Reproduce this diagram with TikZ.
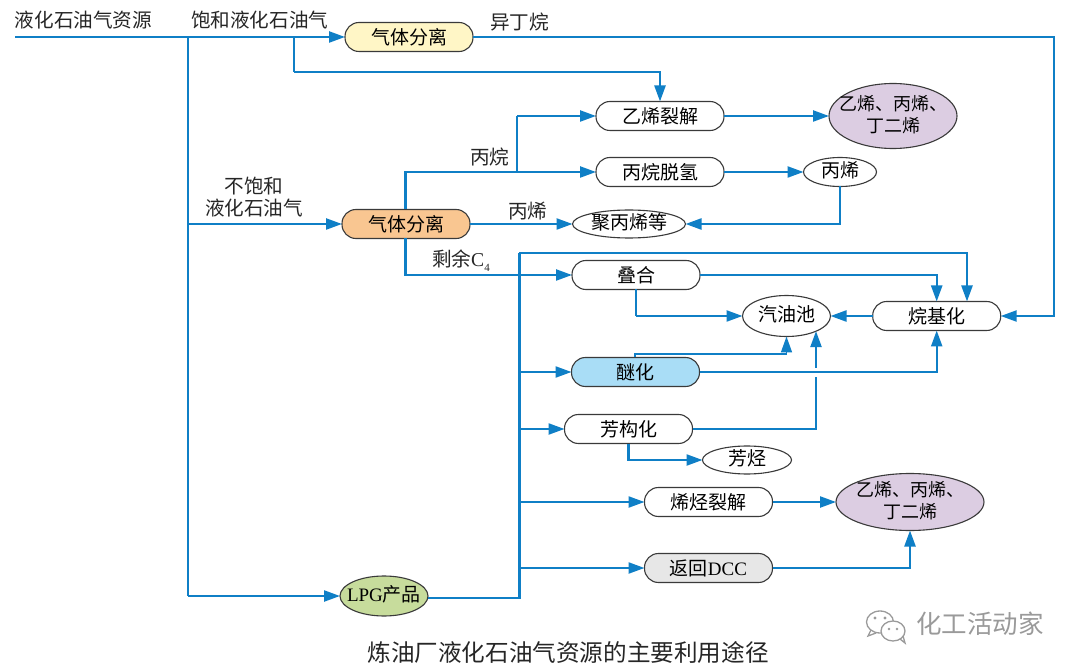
\documentclass[tikz,border=0pt]{standalone}
\usepackage{fontspec}
\setmainfont{Noto Sans CJK SC}
\newfontfamily\latinfont{Liberation Serif}
\usetikzlibrary{arrows.meta,shapes.geometric}
\definecolor{flowc}{HTML}{0F7FC6}
\definecolor{edgec}{HTML}{3A3A3A}
\definecolor{yel}{HTML}{FFF6C6}
\definecolor{ora}{HTML}{F9C691}
\definecolor{pur}{HTML}{DCCDE2}
\definecolor{blu}{HTML}{A9DDF6}
\definecolor{gra}{HTML}{E7E7E7}
\definecolor{gre}{HTML}{C7DC9C}
\definecolor{wmk}{HTML}{9A9A9A}
\newcommand\ctr[1]{\raisebox{-.52em}{\smash{\makebox[0pt][c]{\begin{tabular}[c]{@{}c@{}}#1\end{tabular}}}}}
\tikzset{
  pill/.style={draw=edgec,line width=1.1pt,rounded corners=14pt,fill=white,minimum width=128pt,minimum height=29pt,inner sep=0pt,outer sep=0pt,font=\fontsize{19}{22}\selectfont},
  oval/.style={draw=edgec,line width=1.1pt,ellipse,fill=white,inner sep=0pt,outer sep=0pt,font=\fontsize{19}{22}\selectfont},
  lab/.style={inner sep=0pt,outer sep=0pt,font=\fontsize{19.6}{22}\selectfont,text=black!85},
  flowline/.style={draw=flowc,line width=2.3pt},
  arr/.style={flowline,-{Triangle[length=16pt,width=11pt]}},
  thinflow/.style={draw=flowc,line width=1.6pt,-{Triangle[length=16pt,width=11pt]}}
}
\begin{document}
\begin{tikzpicture}[x=1pt,y=-1pt]
\useasboundingbox (0,0) rectangle (1080,671);
\fill[white] (0,0) rectangle (1080,671);
% nodes
\node[pill,fill=yel] (gs1) at (409,37) {气体分离};
\node[pill] (ethc) at (660,116) {乙烯裂解};
\node[oval,fill=pur,minimum width=128pt,minimum height=65pt] (pr1) at (893,116) {\ctr{\fontsize{18}{22}\selectfont 乙烯、丙烯、\\\fontsize{18}{22}\selectfont 丁二烯}};
\node[pill] (pdh) at (660,172) {丙烷脱氢};
\node[oval,minimum width=73pt,minimum height=29pt] (pe) at (840,172) {\ctr{丙烯}};
\node[pill,fill=ora] (gs2) at (406,224) {气体分离};
\node[oval,minimum width=113pt,minimum height=28pt] (pp) at (629,224) {\ctr{聚丙烯等}};
\node[pill] (oli) at (636,275) {叠合};
\node[oval,minimum width=88pt,minimum height=41pt] (pool) at (786.5,316) {\ctr{汽油池}};
\node[pill] (alk) at (936.7,316) {烷基化};
\node[pill,fill=blu] (eth) at (635.5,372) {醚化};
\node[pill] (aro) at (628.5,429) {芳构化};
\node[oval,minimum width=89pt,minimum height=28pt] (arp) at (747,460) {\ctr{芳烃}};
\node[pill] (olc) at (708.5,502) {烯烃裂解};
\node[oval,fill=pur,minimum width=148pt,minimum height=57pt] (pr2) at (910,502) {\ctr{\fontsize{18}{22}\selectfont 乙烯、丙烯、\\\fontsize{18}{22}\selectfont 丁二烯}};
\node[pill,fill=gra] (dcc) at (708.5,568) {返回{\latinfont DCC}};
\node[oval,fill=gre,minimum width=88pt,minimum height=40pt] (lpg) at (384,596) {\ctr{{\latinfont LPG}产品}};
% labels
\node[lab,anchor=west] (l1) at (15,20) {液化石油气资源};
\node[lab,anchor=west] (l2) at (191,20) {饱和液化石油气};
\node[lab,anchor=west] (l3) at (490,22) {异丁烷};
\node[lab,anchor=west] (l4) at (470,157) {丙烷};
\node[lab,align=center] (l5) at (254,197) {不饱和\\液化石油气};
\node[lab,anchor=west] (l6) at (508,211) {丙烯};
\node[lab,anchor=west] (l7) at (432,261) {剩余{\latinfont C\raisebox{-.25em}{\fontsize{11}{11}\selectfont 4}}};
\node[lab,font=\fontsize{23.6}{26}\selectfont] (cap) at (568,652) {炼油厂液化石油气资源的主要利用途径};
% coordinates
\coordinate (start) at (15,37);
\coordinate (j1) at (188,37);
\coordinate (j2) at (188,224);
\coordinate (j5) at (188,596);
\coordinate (j3) at (293.7,37);
\coordinate (j4) at (293.7,72);
\coordinate (b1) at (405.6,172);
\coordinate (b2) at (517,172);
\coordinate (b3) at (517,116);
\coordinate (c4) at (405.6,275);
\coordinate (t1) at (1053.8,37);
\coordinate (bus) at (519.4,275);
\coordinate (bustop) at (519.4,253);
\coordinate (busbot) at (519.4,598);
\coordinate (e1) at (967,253);
\coordinate (e2) at (936.7,275);
\coordinate (g1) at (816,377);
\coordinate (g2) at (816,367.5);
\coordinate (g0) at (816,429);
\coordinate (u1) at (634.8,354);
\coordinate (u2) at (786.5,354);
\coordinate (n1) at (936.7,372);
\coordinate (n2) at (910,568);
\coordinate (ab) at (628.5,460);
\coordinate (o1) at (635.7,316);
% connectors
\draw[arr] (start) -- (gs1.west);
\draw[flowline] (j1) -- (j5);
\draw[arr] (j5) -- (lpg.west);
\draw[arr] (j2) -- (gs2.west);
\draw[flowline] (j3) -- (j4);
\draw[arr] (j4) -| (ethc.north);
\draw[arr] (gs1.east) -- (t1) |- (alk.east);
\draw[flowline] (gs2.north -| b1) -- (b1) -- (b2);
\draw[arr] (b2) -- (pdh.west);
\draw[flowline] (b2) -- (b3);
\draw[arr] (b3) -- (ethc.west);
\draw[arr] (ethc.east) -- (pr1.west);
\draw[arr] (pdh.east) -- (pe.west);
\draw[arr] (pe.south) |- (pp.east);
\draw[arr] (gs2.east) -- (pp.west);
\draw[arr] (gs2.south -| c4) -- (c4) -- (oli.west);
\draw[flowline] (lpg.east |- busbot) -- (busbot) -- (bustop);
\draw[arr] (bustop) -- (e1) -- (alk.north -| e1);
\draw[arr] (oli.east) -- (e2) -- (alk.north);
\draw[arr] (o1) -- (pool.west);
\draw[flowline] (oli.south -| o1) -- (o1);
\draw[arr] (alk.west) -- (pool.east);
\draw[arr] (bus |- eth.west) -- (eth.west);
\draw[arr] (bus |- aro.west) -- (aro.west);
\draw[arr] (bus |- olc.west) -- (olc.west);
\draw[arr] (bus |- dcc.west) -- (dcc.west);
\draw[thinflow] (eth.north -| u1) -- (u1) -- (u2) -- (pool.south);
\draw[arr] (eth.east) -- (n1) -- (alk.south);
\draw[flowline] (aro.east) -- (g0) -- (g1);
\draw[arr] (g2) -- (g2 |- pool.-27);
\draw[arr] (aro.south) -- (ab) -- (arp.west);
\draw[arr] (olc.east) -- (pr2.west);
\draw[arr] (dcc.east) -- (n2) -- (pr2.south);
% watermark
\node[lab,font=\fontsize{25.5}{28}\selectfont,text=wmk] (wm) at (980,624) {化工活动家};
\draw[draw=wmk,line width=1.3pt,fill=white] (880,622) ellipse [x radius=13.5,y radius=11];
\draw[draw=wmk,line width=1.3pt] (871,630) -- (868,636) -- (876,633);
\draw[draw=wmk,line width=1.3pt,fill=white] (893,631) ellipse [x radius=12,y radius=10];
\draw[draw=wmk,line width=1.3pt] (900,639) -- (905,643) -- (903,636);
\fill[wmk] (875,618) circle (1.7) (885,618) circle (1.7) (889,629) circle (1.4) (897,629) circle (1.4);
\end{tikzpicture}
\end{document}
